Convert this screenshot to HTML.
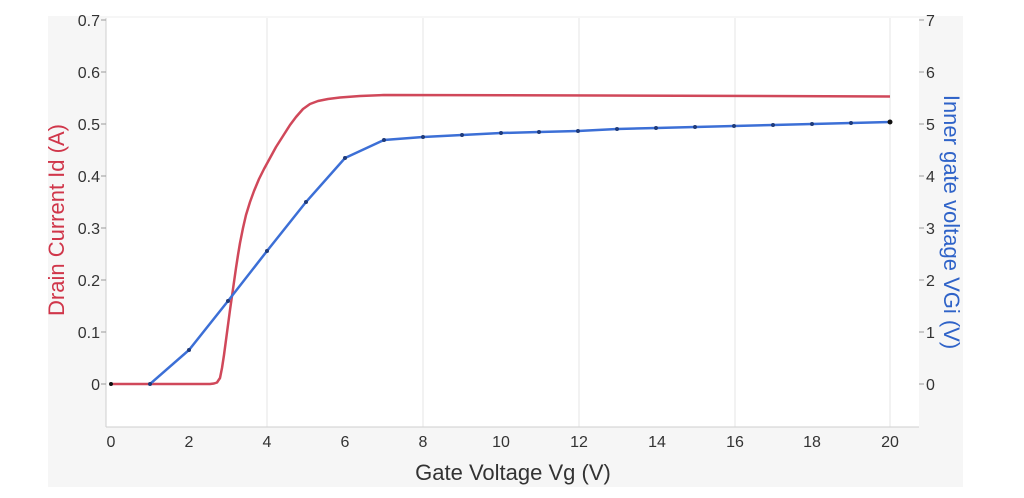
<!DOCTYPE html>
<html><head><meta charset="utf-8"><style>
html,body{margin:0;padding:0;background:#fff;width:1024px;height:498px;overflow:hidden}
text{font-family:"Liberation Sans","DejaVu Sans",sans-serif}
</style></head><body>
<svg width="1024" height="498" viewBox="0 0 1024 498" xmlns="http://www.w3.org/2000/svg">
<rect x="48" y="16" width="915" height="471" fill="#f6f6f6"/>
<rect x="106" y="18" width="813" height="409" fill="#fff"/>
<g stroke="#e6e6e6" stroke-width="1">
<line x1="267" y1="18" x2="267" y2="427"/><line x1="423" y1="18" x2="423" y2="427"/>
<line x1="579" y1="18" x2="579" y2="427"/><line x1="735" y1="18" x2="735" y2="427"/>
<line x1="890" y1="18" x2="890" y2="427"/>
</g>
<line x1="106" y1="18" x2="106" y2="427" stroke="#cfcfcf"/>
<line x1="106" y1="427" x2="919" y2="427" stroke="#cfcfcf"/>
<g stroke="#999" stroke-width="1">
<line x1="101" y1="20" x2="106" y2="20"/><line x1="101" y1="72" x2="106" y2="72"/><line x1="101" y1="124" x2="106" y2="124"/><line x1="101" y1="176" x2="106" y2="176"/><line x1="101" y1="228" x2="106" y2="228"/><line x1="101" y1="280" x2="106" y2="280"/><line x1="101" y1="332" x2="106" y2="332"/><line x1="101" y1="384" x2="106" y2="384"/>
<line x1="919" y1="20" x2="924" y2="20"/><line x1="919" y1="72" x2="924" y2="72"/><line x1="919" y1="124" x2="924" y2="124"/><line x1="919" y1="176" x2="924" y2="176"/><line x1="919" y1="228" x2="924" y2="228"/><line x1="919" y1="280" x2="924" y2="280"/><line x1="919" y1="332" x2="924" y2="332"/><line x1="919" y1="384" x2="924" y2="384"/>
</g>
<g font-size="16" fill="#333" text-anchor="end">
<text x="100" y="26">0.7</text><text x="100" y="78">0.6</text><text x="100" y="130">0.5</text><text x="100" y="182">0.4</text><text x="100" y="234">0.3</text><text x="100" y="286">0.2</text><text x="100" y="338">0.1</text><text x="100" y="390">0</text>
</g>
<g font-size="16" fill="#333" text-anchor="start">
<text x="926" y="26">7</text><text x="926" y="78">6</text><text x="926" y="130">5</text><text x="926" y="182">4</text><text x="926" y="234">3</text><text x="926" y="286">2</text><text x="926" y="338">1</text><text x="926" y="390">0</text>
</g>
<g font-size="16" fill="#333" text-anchor="middle">
<text x="111" y="447">0</text><text x="189" y="447">2</text><text x="267" y="447">4</text><text x="345" y="447">6</text><text x="423" y="447">8</text><text x="501" y="447">10</text><text x="579" y="447">12</text><text x="657" y="447">14</text><text x="735" y="447">16</text><text x="812" y="447">18</text><text x="890" y="447">20</text>
</g>
<text x="513" y="480" font-size="22" fill="#333" text-anchor="middle">Gate Voltage Vg (V)</text>
<text transform="translate(64,220) rotate(-90)" font-size="22" fill="#d0364a" text-anchor="middle">Drain Current Id (A)</text>
<text transform="translate(944,222) rotate(90)" font-size="22" fill="#2f63c8" text-anchor="middle">Inner gate voltage VGi (V)</text>
<polyline fill="none" stroke="#d0485a" stroke-width="2.5" stroke-linejoin="round" points="111,384 210,384 214,383.5 217,382.5 220,378 222,368 224,355 226,340 228,325 230,310 232,296 234,282 236,268 238,255 240,243 243,228 246,215 250,202 254,191 259,179 264,169 270,158 276,147 283,136 290,125 296,117 303,109 310,104 318,101 328,99 340,97.5 360,96 384,95 600,95.5 890,96.5"/>
<polyline fill="none" stroke="#3c6fd6" stroke-width="2.5" points="150,384 189,350 228,301 267,251 306,202 345,158 384,140 423,137 462,135 501,133 539,132 578,131 617,129 656,128 695,127 734,126 773,125 812,124 851,123 890,122"/>
<g fill="#1f3b7a">
<circle cx="150" cy="384" r="2"/><circle cx="189" cy="350" r="2"/><circle cx="228" cy="301" r="2"/><circle cx="267" cy="251" r="2"/><circle cx="306" cy="202" r="2"/><circle cx="345" cy="158" r="2"/><circle cx="384" cy="140" r="2"/><circle cx="423" cy="137" r="2"/><circle cx="462" cy="135" r="2"/><circle cx="501" cy="133" r="2"/><circle cx="539" cy="132" r="2"/><circle cx="578" cy="131" r="2"/><circle cx="617" cy="129" r="2"/><circle cx="656" cy="128" r="2"/><circle cx="695" cy="127" r="2"/><circle cx="734" cy="126" r="2"/><circle cx="773" cy="125" r="2"/><circle cx="812" cy="124" r="2"/><circle cx="851" cy="123" r="2"/><circle cx="890" cy="122" r="2.5" fill="#111"/><circle cx="111" cy="384" r="2" fill="#111"/>
</g>
</svg>
</body></html>
